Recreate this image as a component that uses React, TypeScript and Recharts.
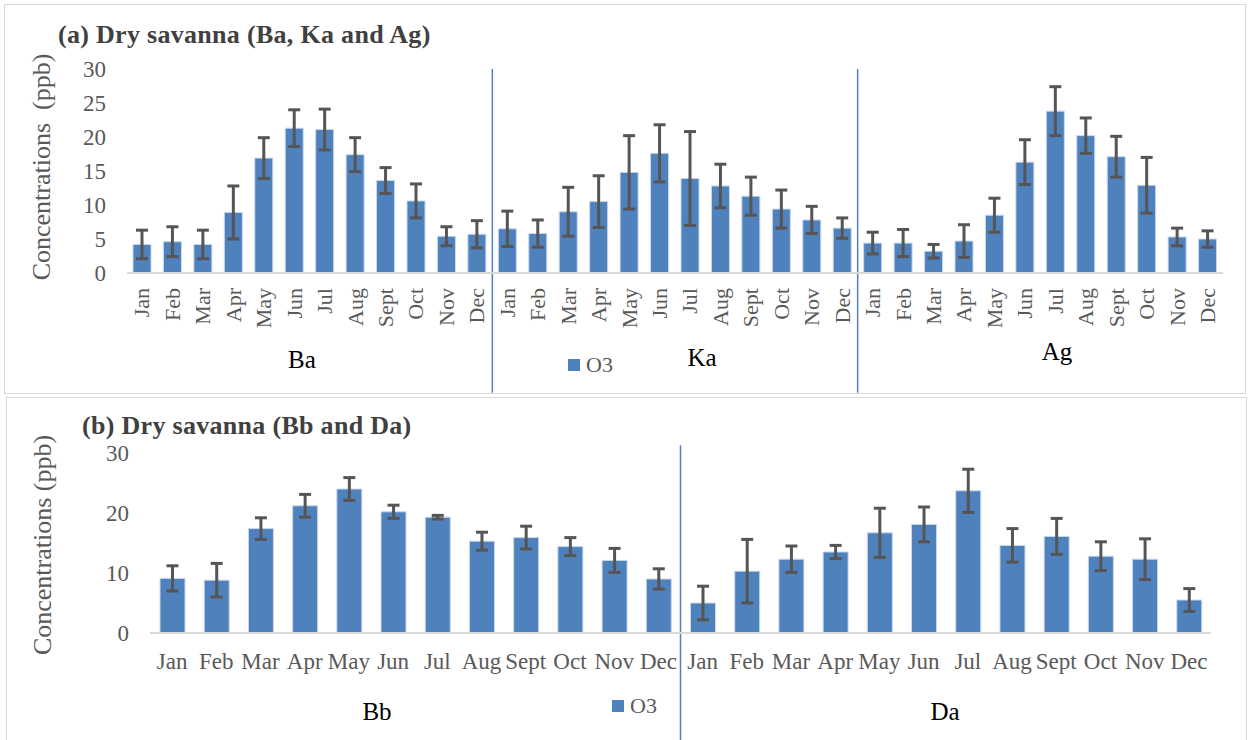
import React from 'react';
import { BarChart, Bar, XAxis, YAxis, ErrorBar, ReferenceLine, Legend } from 'recharts';

const months = ['Jan', 'Feb', 'Mar', 'Apr', 'May', 'Jun', 'Jul', 'Aug', 'Sept', 'Oct', 'Nov', 'Dec'];

// (a) Ba, Ka, Ag  -- mean O3 (ppb) and error
const baMean = [4.2, 4.6, 4.2, 8.9, 16.9, 21.3, 21.1, 17.4, 13.6, 10.6, 5.4, 5.7];
const baErr = [2.1, 2.2, 2.1, 3.9, 3.0, 2.7, 3.0, 2.5, 1.9, 2.5, 1.4, 2.0];
const kaMean = [6.5, 5.8, 9.0, 10.5, 14.8, 17.6, 13.9, 12.8, 11.3, 9.4, 7.8, 6.6];
const kaErr = [2.6, 2.0, 3.6, 3.8, 5.4, 4.2, 6.9, 3.2, 2.8, 2.8, 2.0, 1.5];
const agMean = [4.4, 4.4, 3.2, 4.7, 8.5, 16.3, 23.8, 20.2, 17.1, 12.9, 5.3, 5.0];
const agErr = [1.6, 2.0, 1.0, 2.4, 2.5, 3.3, 3.6, 2.6, 3.0, 4.1, 1.3, 1.2];

// (b) Bb, Da
const bbMean = [9.1, 8.8, 17.4, 21.2, 24.0, 20.2, 19.3, 15.3, 15.9, 14.4, 12.1, 9.0];
const bbErr = [2.1, 2.8, 1.8, 1.9, 1.9, 1.1, 0.3, 1.5, 1.9, 1.5, 2.0, 1.7];
const daMean = [5.0, 10.3, 12.3, 13.5, 16.7, 18.1, 23.7, 14.6, 16.1, 12.8, 12.3, 5.5];
const daErr = [2.8, 5.3, 2.2, 1.1, 4.1, 2.9, 3.6, 2.8, 3.0, 2.4, 3.4, 1.9];

const ticksA = [0, 5, 10, 15, 20, 25, 30];
const ticksB = [0, 10, 20, 30];

const serif = '"Liberation Serif", "Times New Roman", serif';
const grey = '#595959';
const blue = '#4f81bd';

const rows = (site: string, mean: number[], err: number[]) =>
  months.map((m, i) => ({ key: `${site}-${m}`, o3: mean[i], err: err[i] }));

const dataA = [...rows('Ba', baMean, baErr), ...rows('Ka', kaMean, kaErr), ...rows('Ag', agMean, agErr)];
const dataB = [...rows('Bb', bbMean, bbErr), ...rows('Da', daMean, daErr)];

const monthOf = (k: string) => k.split('-')[1];

const VerticalTick = (props: any) => {
  const { x, y, payload } = props;
  return (
    <text x={x} y={y} transform={`rotate(-90 ${x} ${y})`} textAnchor="end" dy="0.33em"
      fill={grey} fontSize={22} fontFamily={serif}>
      {monthOf(payload.value)}
    </text>
  );
};

const FlatTick = (props: any) => {
  const { x, y, payload } = props;
  return (
    <text x={x} y={y} textAnchor="middle" dy="0.71em" fill={grey} fontSize={23} fontFamily={serif}>
      {monthOf(payload.value)}
    </text>
  );
};

const LegendBox = (props: any) => (
  <div>
    {(props.payload || []).map((e: any) => (
      <div key={e.value} style={{ display: 'flex', alignItems: 'center' }}>
        <span style={{ display: 'inline-block', width: 12, height: 12, background: e.color, marginRight: 6 }} />
        <span style={{ color: grey, fontSize: 22, fontFamily: serif, lineHeight: '22px' }}>{e.value}</span>
      </div>
    ))}
  </div>
);

const yTick = { fill: grey, fontSize: 23, fontFamily: serif };

export default function App() {
  return (
    <div style={{ position: 'relative', width: 1250, height: 740, background: '#fff', fontFamily: serif, overflow: 'hidden' }}>
      <style>{'body{margin:0}'}</style>
      <div style={{ position: 'absolute', left: 4, top: 4, width: 1240, height: 388, border: '1.5px solid #d9d9d9' }} />
      <div style={{ position: 'absolute', left: 6, top: 397, width: 1239, height: 360, border: '1.5px solid #d9d9d9' }} />

      <div style={{ position: 'absolute', left: 0, top: 0 }}>
        <BarChart width={1250} height={395} data={dataA} margin={{ top: 69, right: 27, bottom: 0, left: 67 }}>
          <XAxis dataKey="key" interval={0} height={122} tick={<VerticalTick />} tickLine={false}
            tickMargin={9} axisLine={{ stroke: '#d9d9d9', strokeWidth: 2 }} />
          <YAxis width={60} domain={[0, 30]} ticks={ticksA} axisLine={false} tickLine={false}
            tickSize={0} tickMargin={21} tick={yTick} />
          <Bar dataKey="o3" name="O3" fill={blue} stroke="#c9d8ec" strokeWidth={1} barSize={18} isAnimationActive={false}>
            <ErrorBar dataKey="err" width={6} strokeWidth={3} stroke="#555555" direction="y" isAnimationActive={false} />
          </Bar>
          <ReferenceLine segment={[{ x: 'Ka-Jan', y: 30 }, { x: 'Ka-Jan', y: -17.6 }]} position="start"
            stroke={blue} strokeWidth={1.5} ifOverflow="visible" />
          <ReferenceLine segment={[{ x: 'Ag-Jan', y: 30 }, { x: 'Ag-Jan', y: -17.6 }]} position="start"
            stroke={blue} strokeWidth={1.5} ifOverflow="visible" />
          <Legend layout="horizontal" verticalAlign="middle" align="center" content={<LegendBox />}
            wrapperStyle={{ left: 568, top: 354, width: 'auto', height: 'auto' }} />
        </BarChart>
      </div>

      <div style={{ position: 'absolute', left: 0, top: 395 }}>
        <BarChart width={1250} height={345} data={dataB} margin={{ top: 58, right: 39, bottom: 0, left: 90 }}>
          <XAxis dataKey="key" interval={0} height={107} tick={<FlatTick />} tickLine={false}
            tickMargin={14} axisLine={{ stroke: '#d9d9d9', strokeWidth: 2 }} />
          <YAxis width={60} domain={[0, 30]} ticks={ticksB} axisLine={false} tickLine={false}
            tickSize={0} tickMargin={21} tick={yTick} />
          <Bar dataKey="o3" name="O3" fill={blue} stroke="#c9d8ec" strokeWidth={1} barSize={25} isAnimationActive={false}>
            <ErrorBar dataKey="err" width={6} strokeWidth={3} stroke="#555555" direction="y" isAnimationActive={false} />
          </Bar>
          <ReferenceLine segment={[{ x: 'Da-Jan', y: 31.3 }, { x: 'Da-Jan', y: -18.5 }]} position="start"
            stroke={blue} strokeWidth={1.5} ifOverflow="visible" />
          <Legend layout="horizontal" verticalAlign="middle" align="center" content={<LegendBox />}
            wrapperStyle={{ left: 612, top: 300, width: 'auto', height: 'auto' }} />
        </BarChart>
      </div>

      <svg width={1250} height={740} style={{ position: 'absolute', left: 0, top: 0, pointerEvents: 'none' }}>
        <text x={58} y={43} fontSize={26} fontWeight="bold" fill="#404040" fontFamily={serif} letterSpacing={0.3}>
          (a) Dry savanna (Ba, Ka and Ag)
        </text>
        <text x={82} y={434} fontSize={26} fontWeight="bold" fill="#404040" fontFamily={serif} letterSpacing={0.3}>
          (b) Dry savanna (Bb and Da)
        </text>
        <text x={50} y={167} transform="rotate(-90 50 167)" textAnchor="middle" fontSize={26} fill={grey}
          fontFamily={serif} style={{ whiteSpace: 'pre' }}>
          {'Concentrations  (ppb)'}
        </text>
        <text x={51} y={545} transform="rotate(-90 51 545)" textAnchor="middle" fontSize={26} fill={grey}
          fontFamily={serif}>
          Concentrations (ppb)
        </text>
        <g fontSize={25} fill="#000" fontFamily={serif} textAnchor="middle">
          <text x={302} y={368}>Ba</text>
          <text x={702} y={366}>Ka</text>
          <text x={1057} y={360}>Ag</text>
          <text x={377} y={720}>Bb</text>
          <text x={945} y={720}>Da</text>
        </g>
      </svg>
    </div>
  );
}
